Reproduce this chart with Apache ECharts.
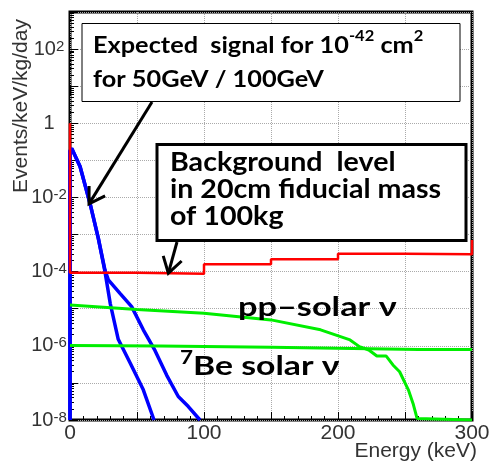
<!DOCTYPE html>
<html>
<head>
<meta charset="utf-8">
<script src="https://cdn.jsdelivr.net/npm/echarts@6/dist/echarts.min.js"></script>
<style>
  html, body { margin: 0; padding: 0; background: #fff; }
  #chart { width: 491px; height: 465px; }
</style>
</head>
<body>
<div id="chart"></div>
<script>
// background level, 20cm fiducial / 100kg (step line)
const bgEnergy = [0, 0, 50, 50, 100, 100, 150, 150, 200, 200, 250, 250, 300, 300];
const bgRate = [1, 9.4e-5, 9.4e-5, 8.8e-5, 8.8e-5, 1.58e-4, 1.58e-4, 2.16e-4, 2.16e-4, 3.05e-4, 3.05e-4, 2.95e-4, 2.95e-4, 7.1e-4];

// expected WIMP signal, 10^-42 cm2, 50 GeV
const sig50Energy = [0, 0, 1.3, 7.5, 14.9, 21.1, 26.1, 30, 36, 44.8, 54.7, 62.7];
const sig50Rate = [1e-8, 0.18, 0.21, 0.068, 7e-3, 8e-4, 1e-4, 1.4e-5, 1.5e-6, 3.5e-7, 6.5e-8, 1e-8];

// expected WIMP signal, 10^-42 cm2, 100 GeV
const sig100Energy = [0, 0, 1.3, 7.5, 14.9, 21.1, 26.1, 28.6, 37.3, 46, 54.7, 63.4, 72.2, 80.8, 88.3, 97];
const sig100Rate = [1e-8, 0.18, 0.21, 0.068, 7e-3, 8e-4, 1.1e-4, 6e-5, 2.6e-5, 1.14e-5, 2.7e-6, 7.5e-7, 1.6e-7, 4.3e-8, 2.3e-8, 1e-8];

// pp solar neutrinos
const ppEnergy = [0, 50, 100, 150, 187, 209, 216, 223, 229, 236, 241, 246, 252.5, 256, 259, 260, 300];
const ppRate = [1.26e-5, 9.6e-6, 7.6e-6, 5.0e-6, 2.7e-6, 1.44e-6, 9.5e-7, 7.7e-7, 5.3e-7, 5.3e-7, 3.05e-7, 2.0e-7, 6.5e-8, 2.8e-8, 1.1e-8, 1e-8, 1e-8];

// 7Be solar neutrinos
const beEnergy = [0, 67, 150, 260, 300];
const beRate = [1.02e-6, 9.9e-7, 9.2e-7, 8.0e-7, 7.9e-7];

// arrow targets (data coords)
const signalArrowTip = [14.2, 6.7e-3];
const bgArrowTip = [73.4, 9.1e-5];

const xLabelValues = [0, 100, 200, 300];

const pairs = (xs, ys) => xs.map((x, i) => [x, ys[i]]);
const axisFont = '"Liberation Sans", Arial, sans-serif';
const annoFont = 'Lato, "Noto Sans", sans-serif';

const chart = echarts.init(document.getElementById('chart'));

const lineSeries = (name, xs, ys, color, width) => ({
    name: name,
    type: 'line',
    data: pairs(xs, ys),
    showSymbol: false,
    symbol: 'none',
    lineStyle: { color: color, width: width },
    itemStyle: { color: color },
    animation: false
});

const option = {
    animation: false,
    backgroundColor: '#fff',
    grid: {
        left: 70, top: 12, width: 402, height: 408,
        outerBoundsMode: 'none',
        containLabel: false,
        show: true, borderColor: '#000', borderWidth: 3
    },
    xAxis: {
        type: 'value',
        min: 0, max: 300, interval: 50,
        axisLine: { show: false },
        axisTick: { inside: true, length: 8, lineStyle: { color: '#000', width: 1 } },
        minorTick: { show: true, splitNumber: 5, length: 4, lineStyle: { color: '#000', width: 1 } },
        splitLine: { show: true, lineStyle: { color: '#aaa', type: 'dotted', width: 1 } },
        axisLabel: {
            margin: 3,
            fontFamily: axisFont, fontSize: 21, color: '#333',
            formatter: v => xLabelValues.includes(v) ? String(v) : ''
        }
    },
    yAxis: {
        type: 'log',
        logBase: 10,
        min: 1e-8, max: 1e3,
        interval: 1,
        axisLine: { show: false },
        axisTick: { inside: true, length: 8, lineStyle: { color: '#000', width: 1 } },
        minorTick: { show: true, splitNumber: 9, length: 4, lineStyle: { color: '#000', width: 1 } },
        splitLine: { show: true, lineStyle: { color: '#aaa', type: 'dotted', width: 1 } },
        axisLabel: {
            margin: 21,
            align: 'center',
            formatter: v => {
                const e = Math.round(Math.log10(v));
                if (e % 2 !== 0) return '';
                if (e === 0) return '{b|1}';
                return '{b|10}{s|' + e + '}';
            },
            rich: {
                b: { fontFamily: axisFont, fontSize: 20, lineHeight: 20, color: '#333', verticalAlign: 'bottom', padding: [10, 0, 0, 0] },
                s: { fontFamily: axisFont, fontSize: 15, lineHeight: 15, color: '#333', verticalAlign: 'top' }
            }
        }
    },
    series: [
        lineSeries('50 GeV', sig50Energy, sig50Rate, '#0000ff', 3.5),
        lineSeries('100 GeV', sig100Energy, sig100Rate, '#0000ff', 3.5),
        lineSeries('Background', bgEnergy, bgRate, '#ff0000', 2.5),
        lineSeries('pp solar', ppEnergy, ppRate, '#00ee00', 3),
        lineSeries('7Be solar', beEnergy, beRate, '#00ee00', 3)
    ]
};

chart.setOption(option);

function arrow(start, tip, len, ang) {
    const a = Math.atan2(start[1] - tip[1], start[0] - tip[0]);
    const w1 = [tip[0] + len * Math.cos(a + ang), tip[1] + len * Math.sin(a + ang)];
    const w2 = [tip[0] + len * Math.cos(a - ang), tip[1] + len * Math.sin(a - ang)];
    const st = { stroke: '#000', lineWidth: 3, fill: null, lineJoin: 'miter' };
    return [
        { type: 'line', z: 100, shape: { x1: start[0], y1: start[1], x2: tip[0], y2: tip[1] }, style: st },
        { type: 'polyline', z: 100, shape: { points: [w1, tip, w2] }, style: st }
    ];
}

const tip1 = chart.convertToPixel({ gridIndex: 0 }, signalArrowTip);
const tip2 = chart.convertToPixel({ gridIndex: 0 }, bgArrowTip);

chart.setOption({
    graphic: [
        // axis titles
        {
            type: 'text', z: 100, x: 21, y: 106, rotation: Math.PI / 2,
            style: { text: 'Events/keV/kg/day', fontFamily: axisFont, fontSize: 21, fill: '#333', align: 'center', verticalAlign: 'middle' }
        },
        {
            type: 'text', z: 100, x: 477, y: 451,
            style: { text: 'Energy (keV)', fontFamily: axisFont, fontSize: 21, fill: '#333', align: 'right', verticalAlign: 'middle' }
        },
        // signal box
        {
            type: 'rect', z: 100,
            shape: { x: 82, y: 23.5, width: 378, height: 78 },
            style: { fill: '#fff', stroke: '#000', lineWidth: 1 }
        },
        {
            type: 'text', z: 101, x: 93, y: 29, scaleX: 1.1,
            style: {
                text: '{t|Expected  signal for 10}{s|-42}{t| cm}{s|2}\n{t|for 50GeV / 100GeV}',
                align: 'left', verticalAlign: 'top',
                rich: {
                    t: { fontFamily: annoFont, fontWeight: 'bold', fontSize: 23, lineHeight: 34, fill: '#000' },
                    s: { fontFamily: annoFont, fontWeight: 'bold', fontSize: 15, lineHeight: 26, fill: '#000', verticalAlign: 'top' }
                }
            }
        },
        ...arrow([152, 102], tip1, 18, 0.55),
        // background box
        {
            type: 'rect', z: 100,
            shape: { x: 157, y: 144.5, width: 309, height: 96 },
            style: { fill: '#fff', stroke: '#000', lineWidth: 3 }
        },
        {
            type: 'text', z: 101, x: 170, y: 148.5, scaleX: 1.06,
            style: {
                text: 'Background  level\nin 20cm fiducial mass\nof 100kg',
                fontFamily: annoFont, fontWeight: 'bold', fontSize: 27, lineHeight: 27, fill: '#000',
                align: 'left', verticalAlign: 'top'
            }
        },
        ...arrow([177, 242], tip2, 18, 0.56),
        // neutrino labels
        {
            type: 'text', z: 101, x: 238, y: 307, scaleX: 1.27,
            style: { text: 'pp\u2013solar \u03bd', fontFamily: annoFont, fontWeight: 'bold', fontSize: 27, fill: '#000', align: 'left', verticalAlign: 'middle' }
        },
        {
            type: 'text', z: 101, x: 180, y: 349, scaleX: 1.25,
            style: {
                text: '{s|7}{t|Be solar \u03bd}',
                align: 'left', verticalAlign: 'top',
                rich: {
                    t: { fontFamily: annoFont, fontWeight: 'bold', fontSize: 27, lineHeight: 34, fill: '#000' },
                    s: { fontFamily: annoFont, fontWeight: 'bold', fontSize: 18, lineHeight: 20, fill: '#000', verticalAlign: 'top' }
                }
            }
        }
    ]
});
</script>
</body>
</html>
